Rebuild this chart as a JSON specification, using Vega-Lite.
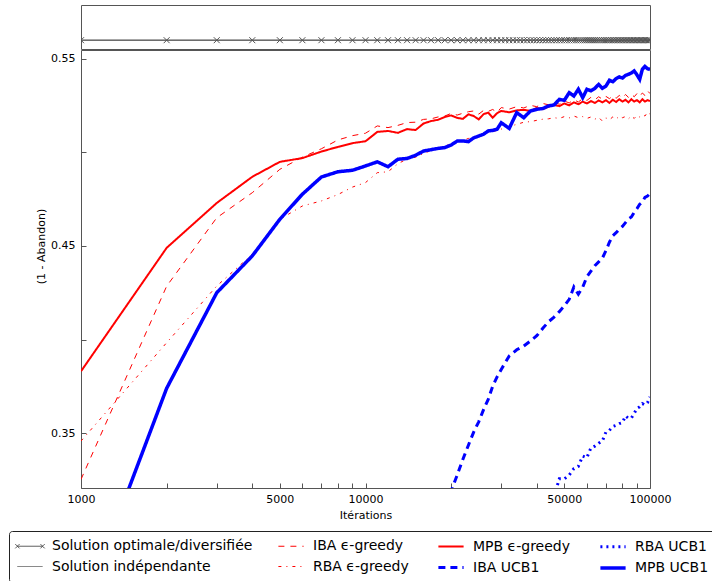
{
  "$schema": "https://vega.github.io/schema/vega-lite/v6.json",
  "padding": {"left": 8, "top": 4, "right": 0, "bottom": 0},
  "config": {
    "font": "DejaVu Sans",
    "view": {"stroke": "#555", "strokeWidth": 1},
    "axis": {"domain": false, "grid": false, "labelFontSize": 11, "titleFontSize": 11, "titleFontWeight": "normal", "labelColor": "#000", "titleColor": "#000", "tickColor": "#555", "labelFlush": false, "labelOverlap": false}
  },
  "datasets": {
    "curves": [
      {"it": 1000, "ibaE": 0.3252, "rbaE": 0.3457, "mpbE": 0.383, "mpbU": 0.2526},
      {"it": 2000, "ibaE": 0.4285, "rbaE": 0.3983, "mpbE": 0.449, "mpbU": 0.3739},
      {"it": 3000, "ibaE": 0.4651, "rbaE": 0.4286, "mpbE": 0.473, "mpbU": 0.425},
      {"it": 4000, "ibaE": 0.4785, "rbaE": 0.4456, "mpbE": 0.487, "mpbU": 0.4447},
      {"it": 5000, "ibaE": 0.491, "rbaE": 0.4643, "mpbE": 0.495, "mpbU": 0.4643},
      {"it": 6000, "ibaE": 0.4975, "rbaE": 0.4714, "mpbE": 0.497, "mpbU": 0.4777},
      {"it": 7000, "ibaE": 0.502, "rbaE": 0.4741, "mpbE": 0.5005, "mpbU": 0.4869},
      {"it": 8000, "ibaE": 0.5067, "rbaE": 0.4775, "mpbE": 0.503, "mpbU": 0.4897},
      {"it": 9000, "ibaE": 0.509, "rbaE": 0.4815, "mpbE": 0.505, "mpbU": 0.4905},
      {"it": 10000, "ibaE": 0.5103, "rbaE": 0.4839, "mpbE": 0.506, "mpbU": 0.4928},
      {"it": 11000, "ibaE": 0.5142, "rbaE": 0.4892, "mpbE": 0.511, "mpbU": 0.495},
      {"it": 12000, "ibaE": 0.5133, "rbaE": 0.4897, "mpbE": 0.5115, "mpbU": 0.4924},
      {"it": 13000, "ibaE": 0.5145, "rbaE": 0.494, "mpbE": 0.5105, "mpbU": 0.4964},
      {"it": 14000, "ibaE": 0.516, "rbaE": 0.4965, "mpbE": 0.5125, "mpbU": 0.4968},
      {"it": 15000, "ibaE": 0.5162, "rbaE": 0.4975, "mpbE": 0.512, "mpbU": 0.4985},
      {"it": 16000, "ibaE": 0.5177, "rbaE": 0.4995, "mpbE": 0.5155, "mpbU": 0.5008},
      {"it": 17000, "ibaE": 0.518, "rbaE": 0.501, "mpbE": 0.5168, "mpbU": 0.5015},
      {"it": 18000, "ibaE": 0.519, "rbaE": 0.502, "mpbE": 0.5175, "mpbU": 0.5022},
      {"it": 19000, "ibaE": 0.5195, "rbaE": 0.5035, "mpbE": 0.519, "ibaU": 0.305, "mpbU": 0.5026},
      {"it": 20000, "ibaE": 0.5209, "rbaE": 0.5048, "mpbE": 0.5198, "ibaU": 0.319, "mpbU": 0.504},
      {"it": 21000, "ibaE": 0.52, "rbaE": 0.5058, "mpbE": 0.5185, "ibaU": 0.3275, "mpbU": 0.5061},
      {"it": 22000, "ibaE": 0.521, "rbaE": 0.5065, "mpbE": 0.518, "ibaU": 0.336, "mpbU": 0.5062},
      {"it": 23000, "ibaE": 0.5218, "rbaE": 0.5075, "mpbE": 0.5204, "ibaU": 0.3435, "mpbU": 0.5058},
      {"it": 24000, "ibaE": 0.5222, "rbaE": 0.508, "mpbE": 0.5195, "ibaU": 0.3505, "mpbU": 0.5078},
      {"it": 25000, "ibaE": 0.5205, "rbaE": 0.5088, "mpbE": 0.5177, "ibaU": 0.356, "mpbU": 0.5088},
      {"it": 26000, "ibaE": 0.5225, "rbaE": 0.5098, "mpbE": 0.5205, "ibaU": 0.3625, "mpbU": 0.5098},
      {"it": 27000, "ibaE": 0.522, "rbaE": 0.5106, "mpbE": 0.5213, "ibaU": 0.368, "mpbU": 0.5115},
      {"it": 28000, "ibaE": 0.523, "rbaE": 0.5112, "mpbE": 0.5186, "ibaU": 0.3751, "mpbU": 0.5118},
      {"it": 29000, "ibaE": 0.5215, "rbaE": 0.5118, "mpbE": 0.521, "ibaU": 0.38, "mpbU": 0.5124},
      {"it": 30000, "ibaE": 0.524, "rbaE": 0.5125, "mpbE": 0.5222, "ibaU": 0.384, "mpbU": 0.5159},
      {"it": 32000, "ibaE": 0.5232, "rbaE": 0.514, "mpbE": 0.5215, "ibaU": 0.3912, "mpbU": 0.5129},
      {"it": 34000, "ibaE": 0.5245, "rbaE": 0.515, "mpbE": 0.5225, "ibaU": 0.3945, "mpbU": 0.5213},
      {"it": 36000, "ibaE": 0.5238, "rbaE": 0.5162, "mpbE": 0.5228, "ibaU": 0.3965, "mpbU": 0.5186},
      {"it": 38000, "ibaE": 0.5252, "rbaE": 0.5165, "mpbE": 0.5222, "ibaU": 0.3992, "mpbU": 0.5222},
      {"it": 40000, "ibaE": 0.5245, "rbaE": 0.5172, "mpbE": 0.5238, "ibaU": 0.402, "mpbU": 0.5231},
      {"it": 42000, "ibaE": 0.5262, "rbaE": 0.5178, "mpbE": 0.5232, "ibaU": 0.406, "mpbU": 0.5235},
      {"it": 44000, "ibaE": 0.5255, "rbaE": 0.518, "mpbE": 0.5245, "ibaU": 0.4095, "mpbU": 0.5249},
      {"it": 46000, "ibaE": 0.5268, "rbaE": 0.5186, "mpbE": 0.5255, "ibaU": 0.412, "rbaU": 0.316, "mpbU": 0.5254},
      {"it": 48000, "ibaE": 0.5258, "rbaE": 0.5182, "mpbE": 0.5248, "ibaU": 0.4149, "rbaU": 0.3255, "mpbU": 0.5284},
      {"it": 50000, "ibaE": 0.5275, "rbaE": 0.5192, "mpbE": 0.5262, "ibaU": 0.418, "rbaU": 0.3255, "mpbU": 0.5279},
      {"it": 52000, "ibaE": 0.5265, "rbaE": 0.5185, "mpbE": 0.5252, "ibaU": 0.4215, "rbaU": 0.3275, "mpbU": 0.532},
      {"it": 54000, "ibaE": 0.5282, "rbaE": 0.5195, "mpbE": 0.5268, "ibaU": 0.4281, "rbaU": 0.331, "mpbU": 0.5302},
      {"it": 56000, "ibaE": 0.527, "rbaE": 0.5186, "mpbE": 0.5258, "ibaU": 0.4242, "rbaU": 0.3322, "mpbU": 0.5338},
      {"it": 58000, "ibaE": 0.5288, "rbaE": 0.5192, "mpbE": 0.5272, "ibaU": 0.428, "rbaU": 0.3377, "mpbU": 0.5293},
      {"it": 60000, "ibaE": 0.5278, "rbaE": 0.5182, "mpbE": 0.5262, "ibaU": 0.4335, "rbaU": 0.3368, "mpbU": 0.5338},
      {"it": 62000, "ibaE": 0.5295, "rbaE": 0.519, "mpbE": 0.5275, "ibaU": 0.4366, "rbaU": 0.3421, "mpbU": 0.533},
      {"it": 64000, "ibaE": 0.5282, "rbaE": 0.5178, "mpbE": 0.5265, "ibaU": 0.4395, "rbaU": 0.343, "mpbU": 0.5343},
      {"it": 66000, "ibaE": 0.5298, "rbaE": 0.5188, "mpbE": 0.5278, "ibaU": 0.4415, "rbaU": 0.3445, "mpbU": 0.5364},
      {"it": 68000, "ibaE": 0.5285, "rbaE": 0.5168, "mpbE": 0.5268, "ibaU": 0.4435, "rbaU": 0.3457, "mpbU": 0.5343},
      {"it": 70000, "ibaE": 0.53, "rbaE": 0.5185, "mpbE": 0.528, "ibaU": 0.4475, "rbaU": 0.3505, "mpbU": 0.5355},
      {"it": 72000, "ibaE": 0.5288, "rbaE": 0.5175, "mpbE": 0.5265, "ibaU": 0.452, "rbaU": 0.3514, "mpbU": 0.5386},
      {"it": 74000, "ibaE": 0.5302, "rbaE": 0.519, "mpbE": 0.5282, "ibaU": 0.4555, "rbaU": 0.3535, "mpbU": 0.5378},
      {"it": 76000, "ibaE": 0.529, "rbaE": 0.5178, "mpbE": 0.527, "ibaU": 0.4571, "rbaU": 0.3541, "mpbU": 0.5395},
      {"it": 78000, "ibaE": 0.5305, "rbaE": 0.5195, "mpbE": 0.5285, "ibaU": 0.459, "rbaU": 0.355, "mpbU": 0.5404},
      {"it": 80000, "ibaE": 0.5292, "rbaE": 0.5186, "mpbE": 0.5272, "ibaU": 0.4605, "rbaU": 0.3555, "mpbU": 0.5398},
      {"it": 82000, "ibaE": 0.531, "rbaE": 0.5192, "mpbE": 0.5282, "ibaU": 0.4625, "rbaU": 0.3591, "mpbU": 0.5412},
      {"it": 84000, "ibaE": 0.5295, "rbaE": 0.518, "mpbE": 0.5268, "ibaU": 0.4645, "rbaU": 0.3579, "mpbU": 0.5418},
      {"it": 86000, "ibaE": 0.5312, "rbaE": 0.5195, "mpbE": 0.5285, "ibaU": 0.4655, "rbaU": 0.358, "mpbU": 0.5425},
      {"it": 88000, "ibaE": 0.5298, "rbaE": 0.5182, "mpbE": 0.5272, "ibaU": 0.468, "rbaU": 0.3605, "mpbU": 0.5436},
      {"it": 90000, "ibaE": 0.5315, "rbaE": 0.5198, "mpbE": 0.528, "ibaU": 0.47, "rbaU": 0.3632, "mpbU": 0.5415},
      {"it": 92000, "ibaE": 0.53, "rbaE": 0.519, "mpbE": 0.5268, "ibaU": 0.4723, "rbaU": 0.364, "mpbU": 0.5391},
      {"it": 94000, "ibaE": 0.5318, "rbaE": 0.5202, "mpbE": 0.5285, "ibaU": 0.4735, "rbaU": 0.3657, "mpbU": 0.5445},
      {"it": 96000, "ibaE": 0.5305, "rbaE": 0.5195, "mpbE": 0.5272, "ibaU": 0.476, "rbaU": 0.365, "mpbU": 0.546},
      {"it": 98000, "ibaE": 0.533, "rbaE": 0.5215, "mpbE": 0.528, "ibaU": 0.4767, "rbaU": 0.3662, "mpbU": 0.5448},
      {"it": 100000, "ibaE": 0.5315, "rbaE": 0.5205, "mpbE": 0.5275, "ibaU": 0.478, "rbaU": 0.3693, "mpbU": 0.5444}
    ],
    "solutions": [
      {"it": 1000, "series": "opt", "v": 0.61},
      {"it": 100000, "series": "opt", "v": 0.61},
      {"it": 1000, "series": "ind", "v": 0.61},
      {"it": 100000, "series": "ind", "v": 0.61}
    ],
    "markers": [
      {"it": 1000}, {"it": 2000}, {"it": 3000}, {"it": 4000}, {"it": 5000}, {"it": 6000}, {"it": 7000}, {"it": 8000}, {"it": 9000}, {"it": 10000},
      {"it": 11000}, {"it": 12000}, {"it": 13000}, {"it": 14000}, {"it": 15000}, {"it": 16000}, {"it": 17000}, {"it": 18000}, {"it": 19000}, {"it": 20000},
      {"it": 21000}, {"it": 22000}, {"it": 23000}, {"it": 24000}, {"it": 25000}, {"it": 26000}, {"it": 27000}, {"it": 28000}, {"it": 29000}, {"it": 30000},
      {"it": 31000}, {"it": 32000}, {"it": 33000}, {"it": 34000}, {"it": 35000}, {"it": 36000}, {"it": 37000}, {"it": 38000}, {"it": 39000}, {"it": 40000},
      {"it": 41000}, {"it": 42000}, {"it": 43000}, {"it": 44000}, {"it": 45000}, {"it": 46000}, {"it": 47000}, {"it": 48000}, {"it": 49000}, {"it": 50000},
      {"it": 51000}, {"it": 52000}, {"it": 53000}, {"it": 54000}, {"it": 55000}, {"it": 56000}, {"it": 57000}, {"it": 58000}, {"it": 59000}, {"it": 60000},
      {"it": 61000}, {"it": 62000}, {"it": 63000}, {"it": 64000}, {"it": 65000}, {"it": 66000}, {"it": 67000}, {"it": 68000}, {"it": 69000}, {"it": 70000},
      {"it": 71000}, {"it": 72000}, {"it": 73000}, {"it": 74000}, {"it": 75000}, {"it": 76000}, {"it": 77000}, {"it": 78000}, {"it": 79000}, {"it": 80000},
      {"it": 81000}, {"it": 82000}, {"it": 83000}, {"it": 84000}, {"it": 85000}, {"it": 86000}, {"it": 87000}, {"it": 88000}, {"it": 89000}, {"it": 90000},
      {"it": 91000}, {"it": 92000}, {"it": 93000}, {"it": 94000}, {"it": 95000}, {"it": 96000}, {"it": 97000}, {"it": 98000}, {"it": 99000}, {"it": 100000}
    ]
  },
  "spacing": 1,
  "bounds": "flush",
  "resolve": {"scale": {"color": "shared", "strokeDash": "shared", "strokeWidth": "shared"}},
  "vconcat": [
    {
      "width": 569,
      "height": 44,
      "layer": [
        {
          "data": {"name": "solutions"},
          "mark": {"type": "line", "clip": true},
          "encoding": {
            "x": {"field": "it", "type": "quantitative", "scale": {"type": "log", "domain": [1000, 100000]}, "axis": null},
            "y": {"field": "v", "type": "quantitative", "scale": {"domain": [0.6, 0.65], "zero": false, "nice": false}, "axis": null},
            "color": {
              "field": "series", "type": "nominal",
              "scale": {"domain": ["opt", "ind", "ibaE", "rbaE", "mpbE", "ibaU", "rbaU", "mpbU"], "range": ["#444444", "#666666", "#ff0000", "#ff0000", "#ff0000", "#0000ff", "#0000ff", "#0000ff"]},
              "legend": {
                "title": null, "orient": "none", "legendX": -72, "legendY": 526,
                "columns": 4, "columnPadding": 23, "rowPadding": 5,
                "symbolSize": 196, "symbolOffset": 5, "labelOffset": 13,
                "labelFontSize": 14, "labelFont": "DejaVu Sans", "labelColor": "#000", "labelLimit": 400,
                "padding": 7, "strokeColor": "#222", "cornerRadius": 3, "fillColor": "#ffffff",
                "labelExpr": "datum.value == 'opt' ? 'Solution optimale/diversifiée' : datum.value == 'ind' ? 'Solution indépendante' : datum.value == 'ibaE' ? 'IBA ϵ-greedy' : datum.value == 'rbaE' ? 'RBA ϵ-greedy' : datum.value == 'mpbE' ? 'MPB ϵ-greedy' : datum.value == 'ibaU' ? 'IBA UCB1' : datum.value == 'rbaU' ? 'RBA UCB1' : 'MPB UCB1'",
                "encode": {"symbols": {"update": {"shape": {"signal": "datum.value == 'opt' ? 'M-1.8,0L1.8,0M-2.1,-0.3L-1.5,0.3M-2.1,0.3L-1.5,-0.3M1.5,-0.3L2.1,0.3M1.5,0.3L2.1,-0.3' : 'M-1.8,0L1.8,0'"}, "fill": {"value": "transparent"}}}}
              }
            },
            "strokeDash": {
              "field": "series", "type": "nominal",
              "scale": {"domain": ["opt", "ind", "ibaE", "rbaE", "mpbE", "ibaU", "rbaU", "mpbU"], "range": [[1, 0], [1, 0], [6, 6], [3, 5, 1, 5], [1, 0], [7, 5], [2, 4], [1, 0]]}
            },
            "strokeWidth": {
              "field": "series", "type": "nominal",
              "scale": {"type": "ordinal", "domain": ["opt", "ind", "ibaE", "rbaE", "mpbE", "ibaU", "rbaU", "mpbU"], "range": [1, 1, 1, 1, 2, 3, 3, 3.5]}
            }
          }
        },
        {
          "data": {"name": "markers"},
          "mark": {"type": "point", "shape": "M-1,-1L1,1M-1,1L1,-1", "size": 36, "filled": false, "stroke": "#555555", "strokeWidth": 1, "opacity": 1, "clip": true},
          "encoding": {
            "x": {"field": "it", "type": "quantitative"},
            "y": {"datum": 0.61, "type": "quantitative"}
          }
        }
      ]
    },
    {
      "width": 569,
      "height": 438,
      "data": {"name": "curves"},
      "transform": [
        {"fold": ["ibaE", "rbaE", "mpbE", "ibaU", "rbaU", "mpbU"], "as": ["series", "val"]},
        {"filter": "isValid(datum.val)"}
      ],
      "mark": {"type": "line", "clip": true},
      "encoding": {
        "x": {
          "field": "it", "type": "quantitative",
          "scale": {"type": "log", "domain": [1000, 100000]},
          "axis": {
            "title": "Itérations",
            "values": [1000, 2000, 3000, 4000, 5000, 6000, 7000, 8000, 9000, 10000, 20000, 30000, 40000, 50000, 60000, 70000, 80000, 90000, 100000],
            "labelExpr": "indexof([1000, 5000, 10000, 50000, 100000], datum.value) >= 0 ? datum.value + '' : ''",
            "tickSize": -5, "labelPadding": 10, "titlePadding": 5
          }
        },
        "y": {
          "field": "val", "type": "quantitative",
          "scale": {"domain": [0.3206, 0.5548], "zero": false, "nice": false},
          "axis": {
            "title": "(1 - Abandon)",
            "values": [0.35, 0.4, 0.45, 0.5, 0.55],
            "labelExpr": "indexof([0.35, 0.45, 0.55], datum.value) >= 0 ? format(datum.value, '.2f') : ''",
            "tickSize": -5, "labelPadding": 11,
            "titleX": -40, "titleY": 196, "titleBaseline": "middle", "titleAngle": -90
          }
        },
        "color": {
          "field": "series", "type": "nominal",
          "scale": {"domain": ["opt", "ind", "ibaE", "rbaE", "mpbE", "ibaU", "rbaU", "mpbU"], "range": ["#444444", "#666666", "#ff0000", "#ff0000", "#ff0000", "#0000ff", "#0000ff", "#0000ff"]}
        },
        "strokeDash": {
          "field": "series", "type": "nominal",
          "scale": {"domain": ["opt", "ind", "ibaE", "rbaE", "mpbE", "ibaU", "rbaU", "mpbU"], "range": [[1, 0], [1, 0], [6, 6], [3, 5, 1, 5], [1, 0], [7, 5], [2, 4], [1, 0]]}
        },
        "strokeWidth": {
          "field": "series", "type": "nominal",
          "scale": {"type": "ordinal", "domain": ["opt", "ind", "ibaE", "rbaE", "mpbE", "ibaU", "rbaU", "mpbU"], "range": [1, 1, 1, 1, 2, 3, 3, 3.5]}
        }
      }
    }
  ]
}
